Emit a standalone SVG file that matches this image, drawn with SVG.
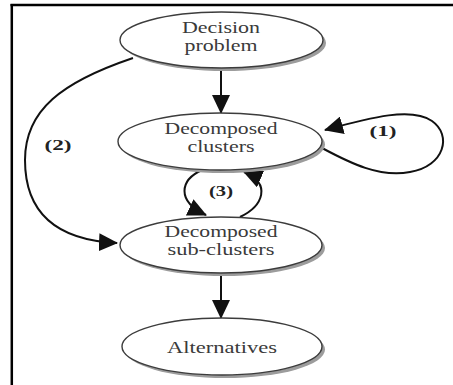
<svg xmlns="http://www.w3.org/2000/svg" width="453" height="385" viewBox="0 0 453 385">
<style>
.shadow{fill:#9c9c9c;stroke:none}
.node{fill:#ffffff;stroke:#3c3c3c;stroke-width:1.4}
.t{font-family:"Liberation Serif","Times New Roman",serif;font-size:17px;fill:#3a3a3a;text-anchor:middle}
.lbl{font-family:"Liberation Serif","Times New Roman",serif;font-size:15.5px;font-weight:bold;fill:#222;text-anchor:middle}
.edge{fill:none;stroke:#111;stroke-width:2}
</style>
<defs>
<marker id="ah" markerUnits="userSpaceOnUse" markerWidth="19" markerHeight="18" viewBox="0 0 19 18" refX="18" refY="9" orient="auto">
<path d="M0,0 L19,9 L0,18 z" fill="#111"/>
</marker>
</defs>
<rect width="453" height="385" fill="#ffffff"/>
<g id="frame">
<line x1="10.5" y1="5" x2="453" y2="5" stroke="#000" stroke-width="2.5"/>
<line x1="11.8" y1="4" x2="11.8" y2="385" stroke="#000" stroke-width="2.5"/>
</g>
<g id="connectors">
<line class="edge" x1="221" y1="69" x2="221" y2="113" marker-end="url(#ah)"/>
<line class="edge" x1="221" y1="274" x2="221" y2="318" marker-end="url(#ah)"/>
<path class="edge" d="M133,58 C62,82 25,110 25,160 C25,212 55,240 117,243" marker-end="url(#ah)"/>
<path class="edge" d="M322,148 C350,163 380,178 410,172 C445,166 452,135 432,121 C412,107 372,117 325,130" marker-end="url(#ah)"/>
<path class="edge" d="M202,170 C180,180 176,201 206,215" marker-end="url(#ah)"/>
<path class="edge" d="M240,217 C263,206 272,184 244,172" marker-end="url(#ah)"/>
</g>
<g id="node-decision">
<ellipse class="shadow" cx="224.5" cy="43" rx="101.5" ry="28"/>
<ellipse class="node" cx="221.5" cy="40" rx="101.5" ry="28"/>
<text class="t" x="221" y="33" textLength="78" lengthAdjust="spacingAndGlyphs">Decision</text>
<text class="t" x="221" y="51" textLength="73" lengthAdjust="spacingAndGlyphs">problem</text>
</g>
<g id="node-clusters">
<ellipse class="shadow" cx="223" cy="144.5" rx="102" ry="28.5"/>
<ellipse class="node" cx="220" cy="141.5" rx="102" ry="28.5"/>
<text class="t" x="221" y="134" textLength="113" lengthAdjust="spacingAndGlyphs">Decomposed</text>
<text class="t" x="221" y="152" textLength="67" lengthAdjust="spacingAndGlyphs">clusters</text>
</g>
<g id="node-subclusters">
<ellipse class="shadow" cx="224" cy="248" rx="101" ry="28"/>
<ellipse class="node" cx="221" cy="245" rx="101" ry="28"/>
<text class="t" x="221" y="237" textLength="113" lengthAdjust="spacingAndGlyphs">Decomposed</text>
<text class="t" x="221" y="255" textLength="107" lengthAdjust="spacingAndGlyphs">sub-clusters</text>
</g>
<g id="node-alternatives">
<ellipse class="shadow" cx="225" cy="349.5" rx="100" ry="28.5"/>
<ellipse class="node" cx="222" cy="346.5" rx="100" ry="28.5"/>
<text class="t" x="222" y="353" textLength="110" lengthAdjust="spacingAndGlyphs">Alternatives</text>
</g>
<g id="labels">
<text class="lbl" x="383" y="136" textLength="27" lengthAdjust="spacingAndGlyphs">(1)</text>
<text class="lbl" x="58" y="150" textLength="27" lengthAdjust="spacingAndGlyphs">(2)</text>
<text class="lbl" x="221" y="196" textLength="24" lengthAdjust="spacingAndGlyphs">(3)</text>
</g>
</svg>
